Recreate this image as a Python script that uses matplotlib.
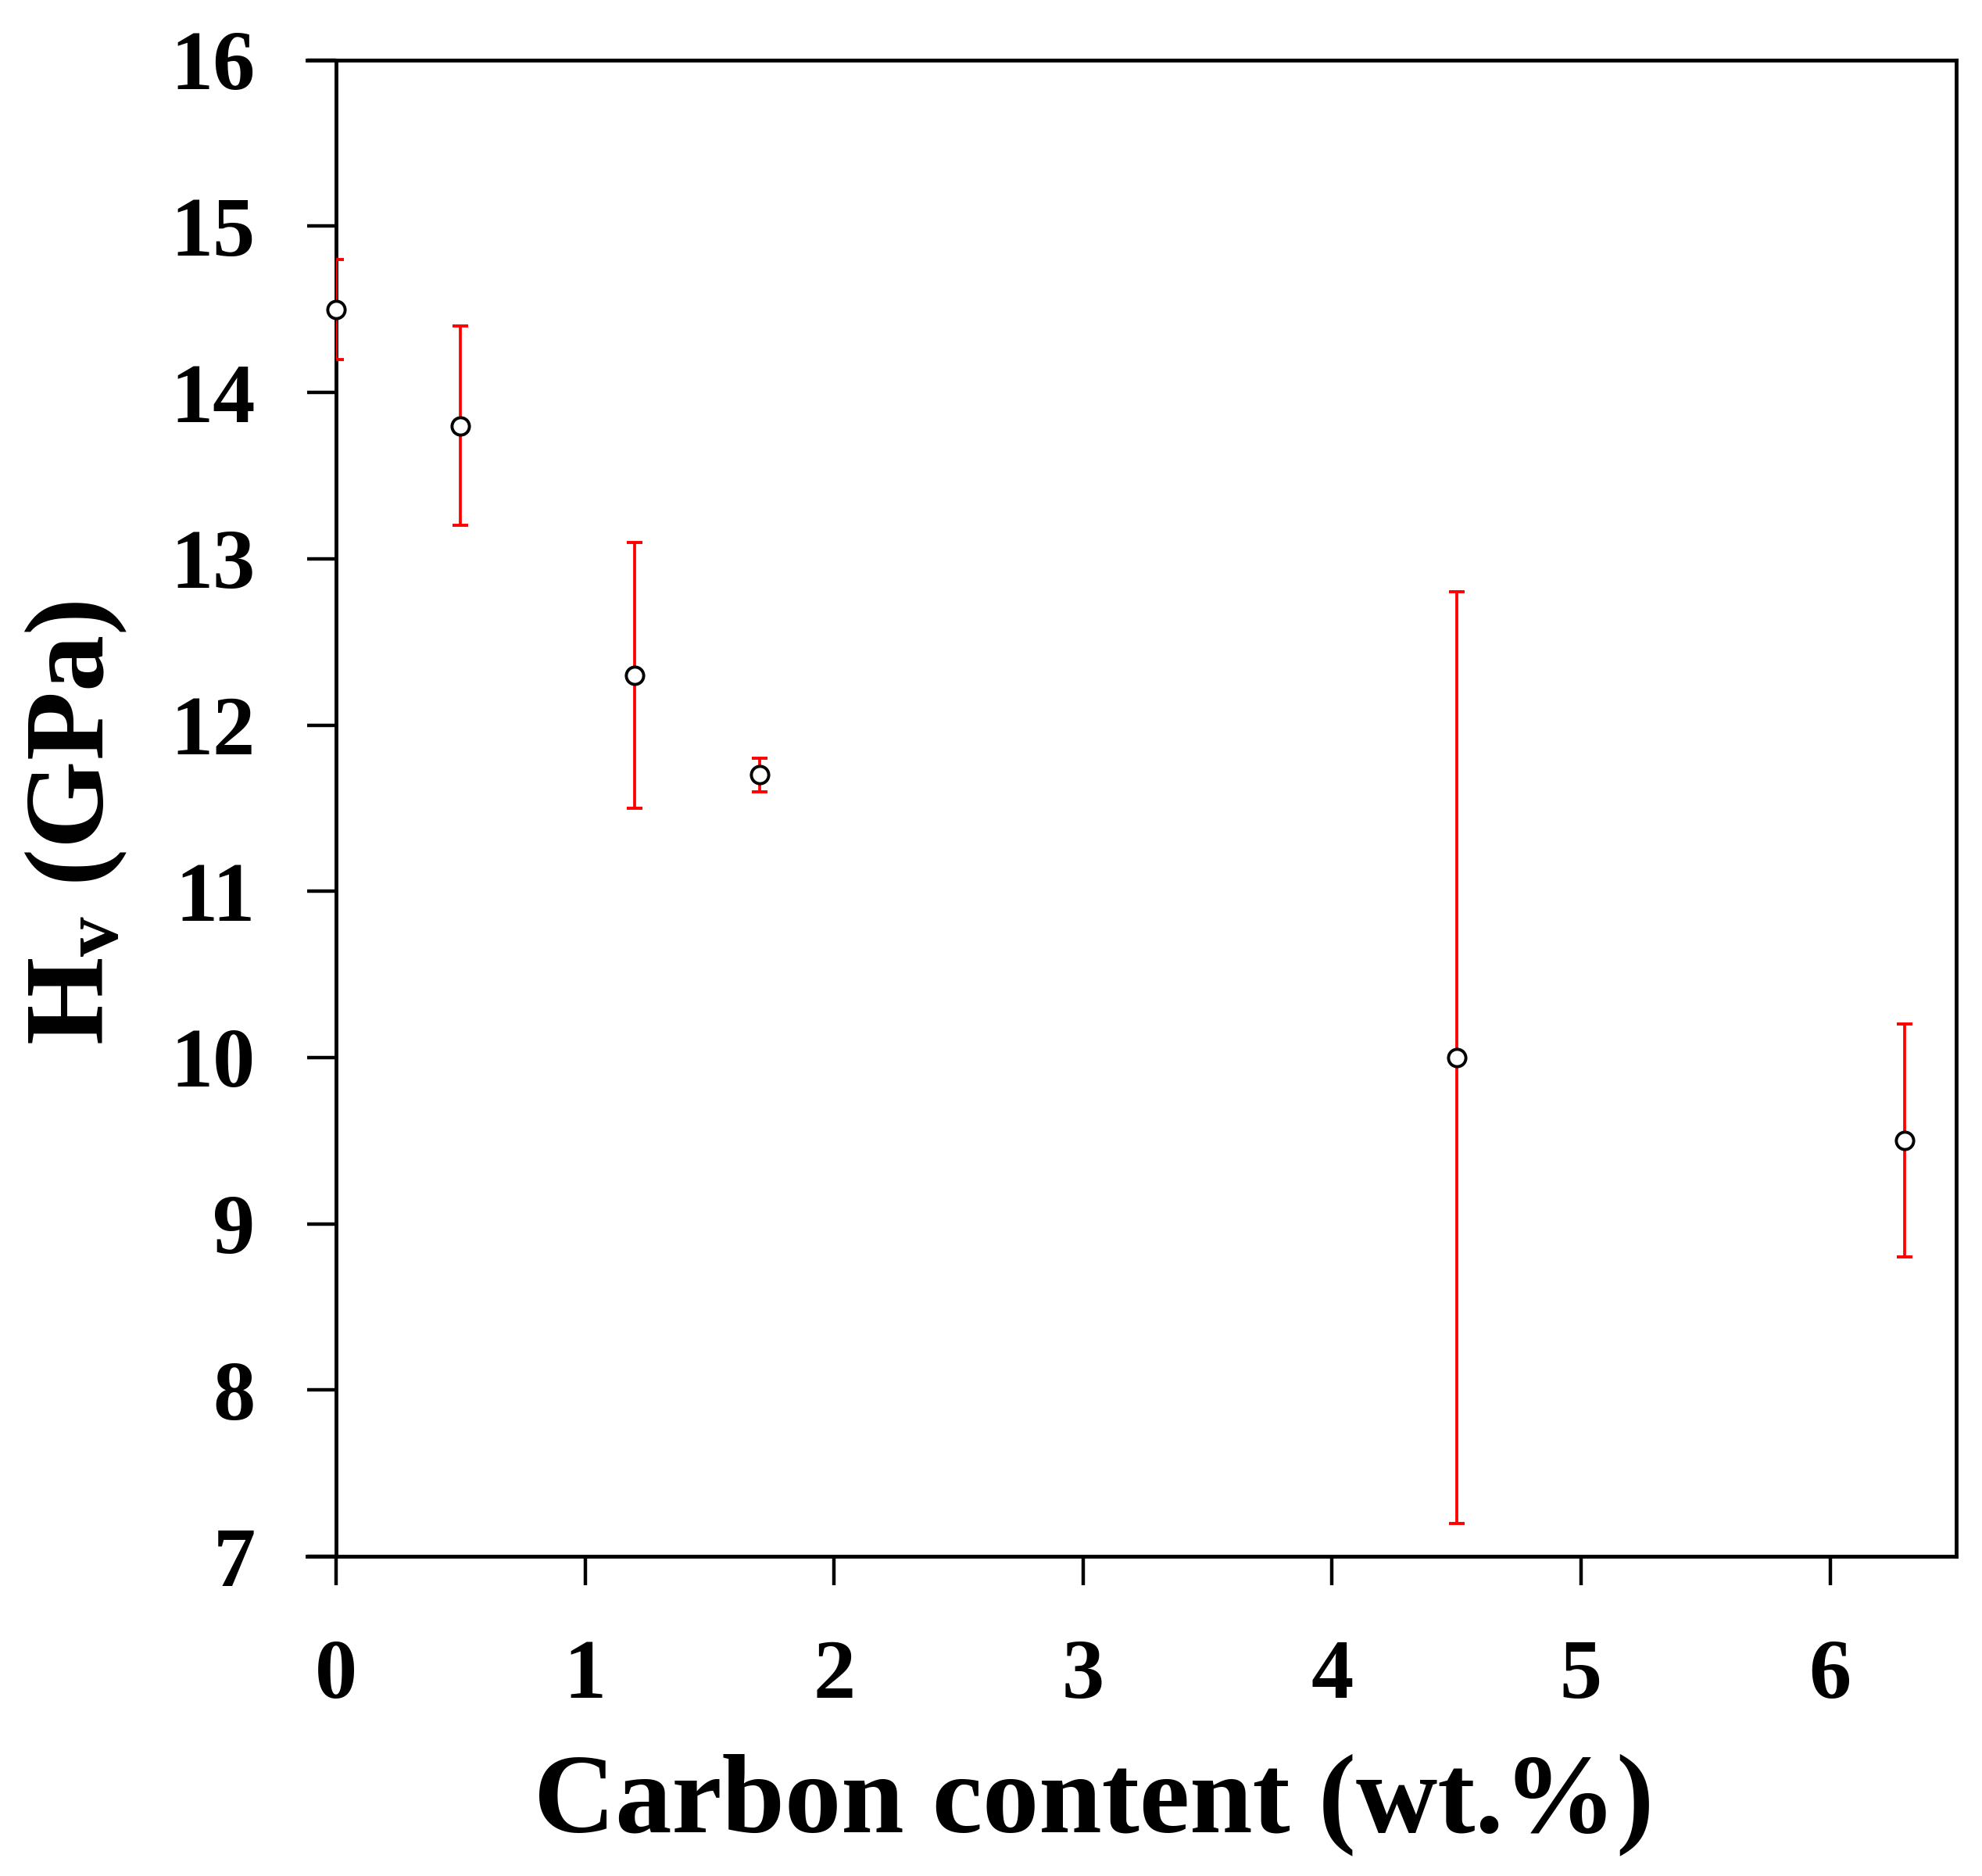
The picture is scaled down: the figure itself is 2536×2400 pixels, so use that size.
import numpy as np
import matplotlib.pyplot as plt
from matplotlib.patches import Rectangle

# Data
carbon = [0.0, 0.5, 1.2, 1.7, 4.5, 6.3]          # wt.%
hv = [14.5, 13.8, 12.3, 11.7, 10.0, 9.5]          # GPa
hv_err = [0.3, 0.6, 0.8, 0.1, 2.8, 0.7]           # GPa

x_ticks = [0, 1, 2, 3, 4, 5, 6]
y_ticks = [7, 8, 9, 10, 11, 12, 13, 14, 15, 16]

plt.rcParams["font.family"] = ["Liberation Serif", "DejaVu Serif"]
plt.rcParams["font.weight"] = "bold"
plt.rcParams["mathtext.fontset"] = "custom"
plt.rcParams["mathtext.rm"] = "Liberation Serif:bold"
plt.rcParams["mathtext.it"] = "Liberation Serif:bold"
plt.rcParams["mathtext.bf"] = "Liberation Serif:bold"

fig = plt.figure(figsize=(25.36, 24), dpi=100)
ax = fig.add_axes([0.155, 0.1704, 0.832, 0.7976])

eb = ax.errorbar(carbon, hv, yerr=hv_err, fmt="o", color="red", ecolor="red",
                 elinewidth=2.7, capsize=7.5, capthick=2.7,
                 mfc="white", mec="black", mew=2.8, ms=16, zorder=3)

# caps are clipped at the y-axis in the original
clip = Rectangle((0, 7), 7, 9, transform=ax.transData)
for cap in eb[1]:
    cap.set_clip_path(clip)
for line in eb[2]:
    line.set_clip_path(clip)

ax.set_xlim(-0.116, 6.507)
ax.set_ylim(7, 16)
ax.set_xticks(x_ticks)
ax.set_yticks(y_ticks)

ax.spines["left"].set_position(("data", 0))
for s in ax.spines.values():
    s.set_linewidth(3.5)
    s.set_color("black")

ax.tick_params(axis="both", direction="out", length=26.5, width=3.2,
               labelsize=78, top=False, right=False)
ax.tick_params(axis="y", pad=48)
ax.tick_params(axis="x", pad=50)
for lab in ax.get_xticklabels() + ax.get_yticklabels():
    lab.set_fontweight("bold")

ax.set_xlabel("Carbon content (wt.%)", fontsize=104, fontweight="bold", va="center")
ax.xaxis.set_label_coords(0.477, -0.166)
ax.set_ylabel(r"H$_{\mathrm{v}}$ (GPa)", fontsize=104, fontweight="bold", va="center")
ax.yaxis.set_label_coords(-0.14, 0.49)

fig.savefig("out.png", dpi=100)
